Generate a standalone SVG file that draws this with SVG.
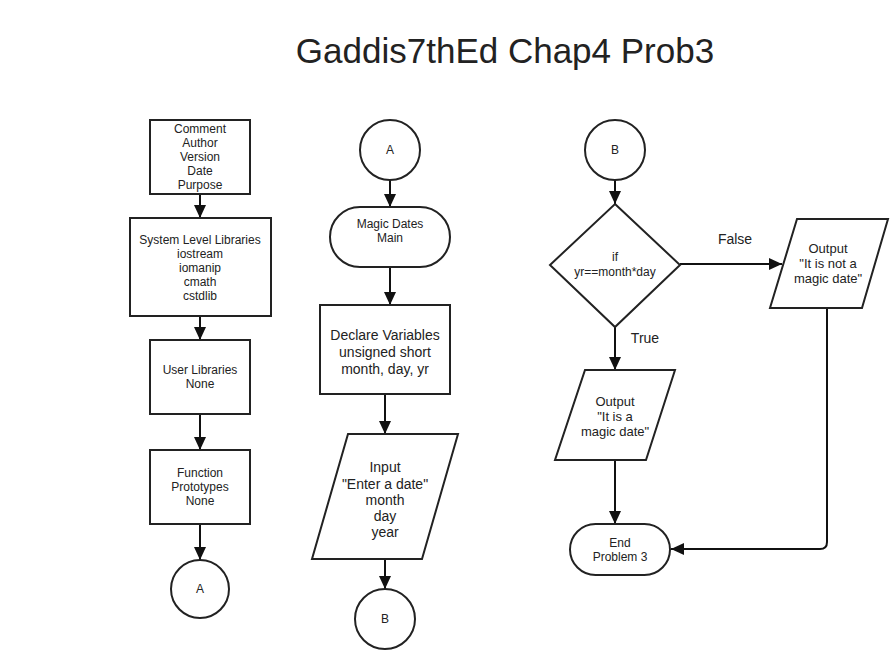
<svg xmlns="http://www.w3.org/2000/svg" width="892" height="670" viewBox="0 0 892 670">
<style>
.n{fill:#fff;stroke:#222;stroke-width:2}
.t{font-family:"Liberation Sans",Arial,sans-serif;fill:#222;text-anchor:middle}
.s{font-size:12px}
.m{font-size:14px}
.o{font-size:13px}
.c{fill:none;stroke:#111;stroke-width:2}
</style>
<defs>
<marker id="ah" markerUnits="userSpaceOnUse" markerWidth="14" markerHeight="14" refX="13" refY="6" orient="auto">
<path d="M0,0 L13,6 L0,12 Z" fill="#111"/>
</marker>
</defs>
<rect width="892" height="670" fill="#fff"/>
<text class="t" x="505" y="63" style="font-size:35px">Gaddis7thEd Chap4 Prob3</text>

<g id="connectors">
<path class="c" d="M200,194 L200,218" marker-end="url(#ah)"/>
<path class="c" d="M200,316 L200,340" marker-end="url(#ah)"/>
<path class="c" d="M200,414 L200,450" marker-end="url(#ah)"/>
<path class="c" d="M200,524 L200,560" marker-end="url(#ah)"/>
<path class="c" d="M390,180 L390,207" marker-end="url(#ah)"/>
<path class="c" d="M390,267 L390,305" marker-end="url(#ah)"/>
<path class="c" d="M385,394 L385,434" marker-end="url(#ah)"/>
<path class="c" d="M385,559 L385,589" marker-end="url(#ah)"/>
<path class="c" d="M615,180 L615,204" marker-end="url(#ah)"/>
<path class="c" d="M680,264 L782,264" marker-end="url(#ah)"/>
<path class="c" d="M615,327 L615,370" marker-end="url(#ah)"/>
<path class="c" d="M615,460 L615,524" marker-end="url(#ah)"/>
<path class="c" d="M827,308 L827,542 Q827,549 820,549 L671,549" marker-end="url(#ah)"/>
<text class="t m" x="735" y="244">False</text>
<text class="t m" x="645" y="343">True</text>
</g>

<g id="comment">
<rect class="n" x="150" y="120" width="100" height="74"/>
<text class="t s" x="200" y="133">Comment</text>
<text class="t s" x="200" y="147">Author</text>
<text class="t s" x="200" y="161">Version</text>
<text class="t s" x="200" y="175">Date</text>
<text class="t s" x="200" y="189">Purpose</text>
</g>
<g id="syslibs">
<rect class="n" x="130" y="218" width="141" height="98"/>
<text class="t s" x="200" y="244">System Level Libraries</text>
<text class="t s" x="200" y="258">iostream</text>
<text class="t s" x="200" y="272">iomanip</text>
<text class="t s" x="200" y="286">cmath</text>
<text class="t s" x="200" y="300">cstdlib</text>
</g>
<g id="userlibs">
<rect class="n" x="150" y="340" width="100" height="74"/>
<text class="t s" x="200" y="374">User Libraries</text>
<text class="t s" x="200" y="388">None</text>
</g>
<g id="protos">
<rect class="n" x="150" y="450" width="100" height="74"/>
<text class="t s" x="200" y="477">Function</text>
<text class="t s" x="200" y="491">Prototypes</text>
<text class="t s" x="200" y="505">None</text>
</g>
<g id="connA1">
<circle class="n" cx="200" cy="589" r="29"/>
<text class="t s" x="200" y="593">A</text>
</g>

<g id="connA2">
<circle class="n" cx="390" cy="150" r="30"/>
<text class="t s" x="390" y="154">A</text>
</g>
<g id="main">
<rect class="n" x="330" y="207" width="120" height="60" rx="30" ry="30"/>
<text class="t s" x="390" y="228">Magic Dates</text>
<text class="t s" x="390" y="242">Main</text>
</g>
<g id="declare">
<rect class="n" x="320" y="305" width="130" height="89"/>
<text class="t m" x="385" y="340">Declare Variables</text>
<text class="t m" x="385" y="357">unsigned short</text>
<text class="t m" x="385" y="374">month, day, yr</text>
</g>
<g id="input">
<polygon class="n" points="348,434 458,434 422,559 312,559"/>
<text class="t m" x="385" y="472">Input</text>
<text class="t m" x="385" y="489">"Enter a date"</text>
<text class="t m" x="385" y="505">month</text>
<text class="t m" x="385" y="521">day</text>
<text class="t m" x="385" y="537">year</text>
</g>
<g id="connB1">
<circle class="n" cx="385" cy="619" r="30"/>
<text class="t s" x="385" y="623">B</text>
</g>

<g id="connB2">
<circle class="n" cx="615" cy="150" r="30"/>
<text class="t s" x="615" y="154">B</text>
</g>
<g id="decision">
<polygon class="n" points="615,204 680,265 615,327 550,265"/>
<text class="t s" x="615" y="261">if</text>
<text class="t s" x="615" y="276">yr==month*day</text>
</g>
<g id="outNot">
<polygon class="n" points="797,219 888,219 862,308 770,308"/>
<text class="t o" x="828" y="253">Output</text>
<text class="t o" x="828" y="268">"It is not a</text>
<text class="t o" x="828" y="283">magic date"</text>
</g>
<g id="outYes">
<polygon class="n" points="585,370 675,370 646,460 555,460"/>
<text class="t o" x="615" y="406">Output</text>
<text class="t o" x="615" y="421">"It is a</text>
<text class="t o" x="615" y="436">magic date"</text>
</g>
<g id="end">
<rect class="n" x="570" y="524" width="100" height="51" rx="25.5" ry="25.5"/>
<text class="t s" x="620" y="547">End</text>
<text class="t s" x="620" y="561">Problem 3</text>
</g>
</svg>
